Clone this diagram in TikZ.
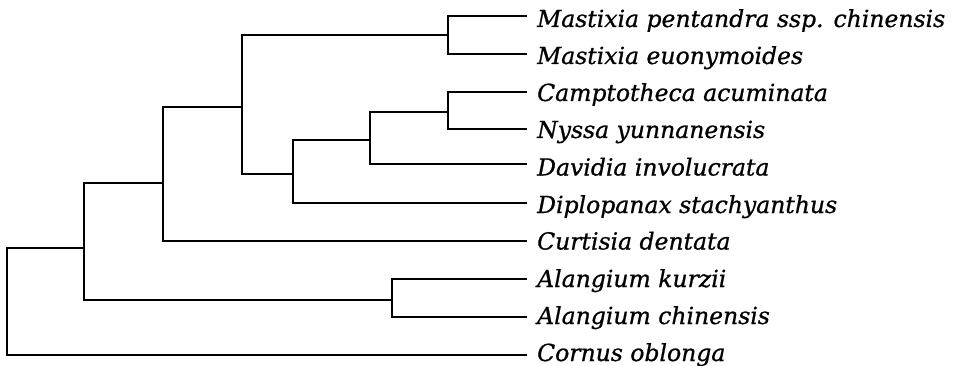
\documentclass[tikz,border=0pt]{standalone}
\usepackage{fontspec}
\setmainfont{DejaVu Serif}
\begin{document}
\begin{tikzpicture}[x=1pt,y=-1pt,
  branch/.style={line width=2.2pt,line cap=rect,line join=miter},
  leaf/.style={anchor=base west,inner sep=0pt,font=\fontsize{23.5}{26}\selectfont\itshape\addfontfeature{FakeBold=0.8}}]
\useasboundingbox (0,0) rectangle (955,366);
% tips
\coordinate (t1) at (526,16);
\coordinate (t2) at (526,54);
\coordinate (t3) at (526,92);
\coordinate (t4) at (526,129);
\coordinate (t5) at (526,164);
\coordinate (t6) at (526,203);
\coordinate (t7) at (526,241);
\coordinate (t8) at (526,279);
\coordinate (t9) at (526,317);
\coordinate (t10) at (526,355);
% internal nodes
\coordinate (n1) at (448,35);
\coordinate (n2) at (448,112);
\coordinate (n3) at (370,140);
\coordinate (n4) at (293,174);
\coordinate (n5) at (242,107);
\coordinate (n6) at (163,183);
\coordinate (n7) at (392,300);
\coordinate (n8) at (84,248);
\coordinate (root) at (7,300);
% labels
\node[leaf] (l1) at (537,27) {Mastixia pentandra ssp. chinensis};
\node[leaf] (l2) at (537,64) {Mastixia euonymoides};
\node[leaf] (l3) at (537,101) {Camptotheca acuminata};
\node[leaf] (l4) at (537,138) {Nyssa yunnanensis};
\node[leaf] (l5) at (537,175.5) {Davidia involucrata};
\node[leaf] (l6) at (537,213) {Diplopanax stachyanthus};
\node[leaf] (l7) at (537,249.5) {Curtisia dentata};
\node[leaf] (l8) at (537,287) {Alangium kurzii};
\node[leaf] (l9) at (537,324) {Alangium chinensis};
\node[leaf] (l10) at (537,361) {Cornus oblonga};
% branches
\draw[branch] (n1) |- (t1) (n1) |- (t2);
\draw[branch] (n2) |- (t3) (n2) |- (t4);
\draw[branch] (n3) |- (n2) (n3) |- (t5);
\draw[branch] (n4) |- (n3) (n4) |- (t6);
\draw[branch] (n5) |- (n1) (n5) |- (n4);
\draw[branch] (n6) |- (n5) (n6) |- (t7);
\draw[branch] (n7) |- (t8) (n7) |- (t9);
\draw[branch] (n8) |- (n6) (n8) |- (n7);
\draw[branch] (root) |- (n8) (root) |- (t10);
\end{tikzpicture}
\end{document}
